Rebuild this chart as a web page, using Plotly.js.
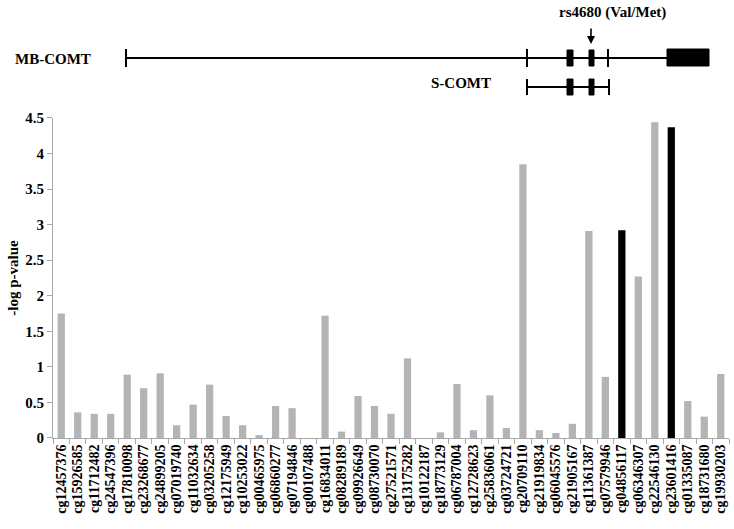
<!DOCTYPE html>
<html>
<head>
<meta charset="utf-8">
<script src="https://cdn.plot.ly/plotly-3.0.1.min.js"></script>
<style>
  body { margin: 0; background: #fff; }
  #myPlot { width: 734px; height: 529px; }
</style>
</head>
<body>
<div id="myPlot"></div>
<script>
// CpG probes along COMT and their -log p-values
var probeNames = [
  'cg12457376','cg15926585','cg11712482','cg24547396','cg17810098','cg23268677',
  'cg24899205','cg07019740','cg11032634','cg03205258','cg12175949','cg10253022',
  'cg00465975','cg06860277','cg07194846','cg00107488','cg16834011','cg08289189',
  'cg09926649','cg08730070','cg27521571','cg13175282','cg10122187','cg18773129',
  'cg06787004','cg12728623','cg25836061','cg03724721','cg20709110','cg21919834',
  'cg06045576','cg21905167','cg11361387','cg07579946','cg04856117','cg06346307',
  'cg22546130','cg23601416','cg01335087','cg18731680','cg19930203'
];
var logP = [
  1.75, 0.36, 0.34, 0.34, 0.89, 0.70,
  0.91, 0.18, 0.47, 0.75, 0.31, 0.18,
  0.04, 0.45, 0.42, 0.00, 1.72, 0.09,
  0.59, 0.45, 0.34, 1.12, 0.00, 0.08,
  0.76, 0.11, 0.60, 0.14, 3.85, 0.11,
  0.07, 0.20, 2.91, 0.86, 2.92, 2.27,
  4.44, 4.37, 0.52, 0.30, 0.90
];
var highlighted = ['cg04856117', 'cg23601416'];

// gene schematic (diagram units)
var mbStart = 126, mbEnd = 667;
var mbTicks = [126, 527, 608];
var sStart = 527, sEnd = 609;
var sTicks = [527, 609];
var smallExons = [[567, 573], [589, 594]];
var bigExon = [667, 709];
var snpPos = 591;

var barColors = probeNames.map(function(n){
  return highlighted.indexOf(n) >= 0 ? '#000000' : '#b4b4b4';
});

var trace1 = {
  x: probeNames,
  y: logP,
  type: 'bar',
  marker: {color: barColors},
  hoverinfo: 'x+y'
};

var serif = 'Liberation Serif, Times New Roman, serif';
var mbY = 58, sY = 87;

var shapes = [];
function line(x0, y0, x1, y1, w){
  shapes.push({type: 'line', xref: 'x2', yref: 'y2', x0: x0, y0: y0, x1: x1, y1: y1,
    line: {color: '#000', width: w}});
}
function box(x0, y0, x1, y1){
  shapes.push({type: 'rect', xref: 'x2', yref: 'y2', x0: x0, y0: y0, x1: x1, y1: y1,
    fillcolor: '#000', line: {color: '#000', width: 1}});
}
line(mbStart, mbY, mbEnd, mbY, 2);
mbTicks.forEach(function(t){ line(t, mbY - 9, t, mbY + 9, 2); });
smallExons.forEach(function(e){ box(e[0], mbY - 8, e[1], mbY + 8); });
box(bigExon[0], mbY - 9, bigExon[1], mbY + 8);
line(sStart, sY, sEnd, sY, 2);
sTicks.forEach(function(t){ line(t, sY - 8, t, sY + 8, 2); });
smallExons.forEach(function(e){ box(e[0], sY - 8, e[1], sY + 8); });

var annotations = [
  {xref: 'x2', yref: 'y2', x: 53, y: mbY + 1, text: '<b>MB-COMT</b>', showarrow: false,
    xanchor: 'center', font: {family: serif, size: 15, color: '#000'}},
  {xref: 'x2', yref: 'y2', x: 461, y: sY - 4, text: '<b>S-COMT</b>', showarrow: false,
    xanchor: 'center', font: {family: serif, size: 15, color: '#000'}},
  {xref: 'x2', yref: 'y2', x: 612, y: 12, text: '<b>rs4680 (Val/Met)</b>', showarrow: false,
    xanchor: 'center', font: {family: serif, size: 15, color: '#000'}},
  {xref: 'x2', yref: 'y2', x: snpPos, y: 44, ax: snpPos, ay: 27, axref: 'x2', ayref: 'y2',
    text: '', showarrow: true, arrowhead: 2, arrowsize: 1, arrowwidth: 1.6, arrowcolor: '#000'}
];

var plotLayout = {
  width: 734,
  height: 529,
  margin: {l: 53, r: 5, t: 0, b: 91},
  paper_bgcolor: '#fff',
  plot_bgcolor: '#fff',
  showlegend: false,
  bargap: 0.56,
  font: {family: serif, color: '#000'},
  xaxis: {
    type: 'category',
    domain: [0, 1],
    anchor: 'y',
    tickmode: 'linear',
    dtick: 1,
    showline: true,
    linecolor: '#a8a8a8',
    linewidth: 1,
    ticks: 'outside',
    tickson: 'boundaries',
    ticklen: 5,
    tickcolor: '#a8a8a8',
    tickangle: -90,
    tickfont: {family: serif, size: 14, color: '#000', weight: 'bold'},
    showgrid: false,
    zeroline: false
  },
  yaxis: {
    domain: [0, 0.7306],
    range: [0, 4.5],
    dtick: 0.5,
    showline: true,
    linecolor: '#a8a8a8',
    linewidth: 1,
    ticks: 'outside',
    ticklen: 5,
    tickcolor: '#a8a8a8',
    tickfont: {family: serif, size: 15, color: '#000', weight: 'bold'},
    showgrid: false,
    zeroline: false,
    title: {text: '<b>-log p-value</b>', font: {family: serif, size: 15, color: '#000'}, standoff: 2}
  },
  xaxis2: {
    domain: [0, 1],
    anchor: 'y2',
    range: [53, 729],
    visible: false,
    fixedrange: true
  },
  yaxis2: {
    domain: [0.7306, 1],
    anchor: 'x2',
    range: [118, 0],
    visible: false,
    fixedrange: true
  },
  shapes: shapes,
  annotations: annotations
};

// dummy trace so the diagram axes exist
var traceGene = {x: [53], y: [0], xaxis: 'x2', yaxis: 'y2', mode: 'markers',
  marker: {opacity: 0}, hoverinfo: 'skip'};

var myPlot = document.getElementById('myPlot');
Plotly.newPlot(myPlot, [trace1, traceGene], plotLayout, {displayModeBar: false});
</script>
</body>
</html>
